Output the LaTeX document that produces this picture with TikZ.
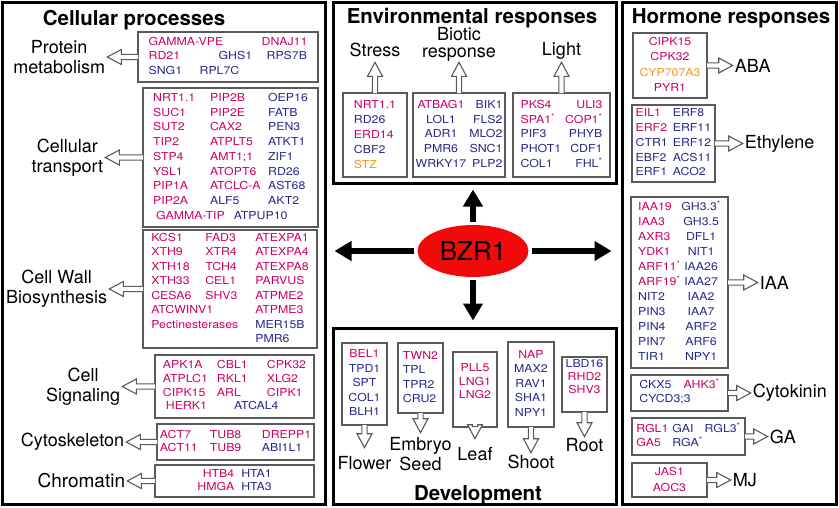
\documentclass[tikz,border=0pt]{standalone}
\usepackage{fontspec}
\setmainfont{TeX Gyre Heros}
\newfontfamily\genefont[FakeStretch=1.12]{TeX Gyre Heros}
\usepackage{tikz}
\usetikzlibrary{positioning,arrows.meta,shapes.geometric,calc}

\definecolor{genered}{RGB}{205,0,100}
\definecolor{geneblue}{RGB}{40,40,140}
\definecolor{geneorange}{RGB}{240,150,40}
\definecolor{boxgray}{RGB}{90,90,90}
\definecolor{bzrred}{RGB}{240,10,10}

\newcommand{\gR}[1]{\textcolor{genered}{#1}}
\newcommand{\gB}[1]{\textcolor{geneblue}{#1}}
\newcommand{\gO}[1]{\textcolor{geneorange}{#1}}
\newcommand{\sast}{\textsuperscript{*}}

\begin{document}
\begin{tikzpicture}[
    x=1pt, y=-1pt,
    panel/.style={draw=black, line width=3pt},
    ptitle/.style={font=\bfseries\fontsize{20.5}{24}\selectfont, inner sep=0pt, anchor=base},
    gbox/.style={draw=boxgray, line width=1.4pt, fill=white, inner sep=0pt, font=\genefont\fontsize{11}{#1}\selectfont},
    gbox/.default=14.6,
    lbl/.style={font=\fontsize{18}{20}\selectfont, align=center, inner sep=2pt},
    harr/.style={draw=boxgray, line width=1.1pt, fill=white,
      to path={let \p1=(\tikztostart), \p2=(\tikztotarget),
        \n1={atan2(\y2-\y1,\x2-\x1)}, \n2={veclen(\x2-\x1,\y2-\y1)} in
        {[shift={(\p1)}, rotate=\n1] (-0.7pt,2.6pt) -- ({\n2*1pt-14pt},2.6pt) -- ({\n2*1pt-14pt},7.5pt)
          -- ({\n2*1pt},0pt) -- ({\n2*1pt-14pt},-7.5pt) -- ({\n2*1pt-14pt},-2.6pt) -- (-0.7pt,-2.6pt)}}},
    bigarr/.style={line width=6pt, -{Triangle[length=17pt,width=19pt]}, shorten <=3pt},
  ]
  \path[fill=white, use as bounding box] (0,0) rectangle (839,507);

  \node[panel, minimum width=323pt, minimum height=502pt] (cell) at (163.5,253) {};
  \node[panel, minimum width=283pt, minimum height=181pt] (env) at (474.5,92.5) {};
  \node[panel, minimum width=283pt, minimum height=176pt] (dev) at (474.5,416) {};
  \node[panel, minimum width=214pt, minimum height=502pt] (horm) at (729,253) {};

  \node[ptitle] (cellT) at (134,25) {Cellular processes};
  \node[ptitle] (envT) at (472,23) {Environmental responses};
  \node[ptitle] (hormT) at (731,23) {Hormone responses};
  \node[ptitle] (devT) at (478,500) {Development};

  % cellular processes
  \node[gbox, minimum width=180pt, minimum height=50pt] (prot) at (228,57) {
    \begin{tabular}{@{}p{51pt}@{}p{62pt}@{}l@{}}
      \multicolumn{2}{@{}l@{}}{\gR{GAMMA-VPE}} & \gR{DNAJ11}\\
      \gR{RD21} & \hspace*{19pt}\gB{GHS1} & \hspace*{5pt}\gB{RPS7B}\\
      \gB{SNG1} & \gB{RPL7C} &
    \end{tabular}};
  \node[gbox=14.75, minimum width=175pt, minimum height=139pt] (trans) at (230.5,157.5) {
    \begin{tabular}{@{}p{57pt}@{}p{58pt}@{}l@{}}
      \gR{NRT1.1} & \gR{PIP2B} & \gB{OEP16}\\
      \gR{SUC1} & \gR{PIP2E} & \gB{FATB}\\
      \gR{SUT2} & \gR{CAX2} & \gB{PEN3}\\
      \gR{TIP2} & \gR{ATPLT5} & \gB{ATKT1}\\
      \gR{STP4} & \gR{AMT1;1} & \gB{ZIF1}\\
      \gR{YSL1} & \gR{ATOPT6} & \gB{RD26}\\
      \gR{PIP1A} & \gR{ATCLC-A} & \gB{AST68}\\
      \gR{PIP2A} & \gB{ALF5} & \gB{AKT2}\\
      \multicolumn{3}{@{}l@{}}{\hspace*{3pt}\gR{GAMMA-TIP}\hspace{9pt}\gB{ATPUP10}}
    \end{tabular}};
  \node[gbox=14.5, minimum width=174pt, minimum height=118pt] (wall) at (230,289) {
    \begin{tabular}{@{}p{54pt}@{}p{50pt}@{}l@{}}
      \gR{KCS1} & \gR{FAD3} & \gR{ATEXPA1}\\
      \gR{XTH9} & \gR{XTR4} & \gR{ATEXPA4}\\
      \gR{XTH18} & \gR{TCH4} & \gR{ATEXPA8}\\
      \gR{XTH33} & \gR{CEL1} & \gR{PARVUS}\\
      \gR{CESA6} & \gR{SHV3} & \gR{ATPME2}\\
      \multicolumn{2}{@{}l@{}}{\gR{ATCWINV1}} & \gR{ATPME3}\\
      \multicolumn{2}{@{}l@{}}{\gR{Pectinesterases}} & \gB{MER15B}\\
      & & \gB{PMR6}
    \end{tabular}};
  \node[gbox=13.8, minimum width=159pt, minimum height=63pt] (sig) at (234.5,386.5) {
    \begin{tabular}{@{}p{54pt}@{}p{50pt}@{}l@{}}
      \gR{APK1A} & \gR{CBL1} & \gR{CPK32}\\
      \gR{ATPLC1} & \gR{RKL1} & \gR{XLG2}\\
      \gR{CIPK15} & \gR{ARL} & \gR{CIPK1}\\
      \multicolumn{3}{@{}l@{}}{\hspace*{3pt}\gR{HERK1}\hspace{27pt}\gB{ATCAL4}}
    \end{tabular}};
  \node[gbox=13, minimum width=157pt, minimum height=36pt] (cyto) at (235.5,442) {
    \begin{tabular}{@{}p{50pt}@{}p{52pt}@{}l@{}}
      \gR{ACT7} & \gR{TUB8} & \gR{DREPP1}\\
      \gR{ACT11} & \gR{TUB9} & \gB{ABI1L1}
    \end{tabular}};
  \node[gbox=13, minimum width=159pt, minimum height=32pt] (chrom) at (234.5,481) {
    \begin{tabular}{@{}r@{\hspace{7pt}}l@{}}
      \gR{HTB4} & \gB{HTA1}\\
      \gR{HMGA} & \gB{HTA3}
    \end{tabular}};

  \node[lbl, left=30pt of prot] (protL) {Protein\\metabolism};
  \node[lbl, left=37pt of trans] (transL) {Cellular\\transport};
  \node[lbl, left=33pt of wall] (wallL) {Cell Wall\\Biosynthesis};
  \node[lbl, left=32pt of sig] (sigL) {Cell\\Signaling};
  \node[lbl, left=30pt of cyto] (cytoL) {Cytoskeleton};
  \node[lbl, left=27pt of chrom, font=\fontsize{19}{20}\selectfont] (chromL) {Chromatin};
  \draw[harr] (prot.west) to (protL.east);
  \draw[harr] (trans.west) to (transL.east);
  \draw[harr] (wall.west) to (wallL.east);
  \draw[harr] (sig.west) to (sigL.east);
  \draw[harr] (cyto.west) to (cytoL.east);
  \draw[harr] (chrom.west) to (chromL.east);

  % environmental responses
  \node[gbox=15, minimum width=64pt, minimum height=84pt] (stress) at (375,135) {
    \begin{tabular}{@{}l@{}}
      \gR{NRT1.1}\\ \gB{RD26}\\ \gR{ERD14}\\ \gB{CBF2}\\ \gO{STZ}
    \end{tabular}};
  \node[gbox=14.8, minimum width=92pt, minimum height=84pt] (biot) at (459,135) {
    \begin{tabular}{@{}c@{\hspace{3pt}}r@{}}
      \gR{ATBAG1} & \gB{BIK1}\\
      \gB{LOL1} & \gB{FLS2}\\
      \gB{ADR1} & \gB{MLO2}\\
      \gB{PMR6} & \gB{SNC1}\\
      \gB{WRKY17} & \gB{PLP2}
    \end{tabular}};
  \node[gbox=14.8, minimum width=97pt, minimum height=84pt] (light) at (561.5,135) {
    \begin{tabular}{@{}l@{\hspace{4pt}}r@{}}
      \gR{PKS4} & \gR{ULI3}\\
      \gR{SPA1\sast} & \gR{COP1\sast}\\
      \gB{PIF3} & \gB{PHYB}\\
      \gB{PHOT1} & \gB{CDF1}\\
      \gB{COL1} & \gB{FHL\sast}
    \end{tabular}};

  \node[lbl, above=30pt of stress, inner ysep=5pt] (stressL) {Stress};
  \node[lbl, above=30pt of biot, inner ysep=1pt, font=\fontsize{18}{16.5}\selectfont] (biotL) {Biotic\\response};
  \node[lbl, above=30pt of light, inner ysep=2.5pt] (lightL) {Light};
  \draw[harr] (stress.north) to (stressL.south);
  \draw[harr] (biot.north) to (biotL.south);
  \draw[harr] (light.north) to (lightL.south);

  % development
  \node[gbox=14.5, minimum width=45pt, minimum height=82pt] (flow) at (364.5,384) {
    \begin{tabular}{@{}c@{}}
      \gR{BEL1}\\ \gB{TPD1}\\ \gB{SPT}\\ \gB{COL1}\\ \gB{BLH1}
    \end{tabular}};
  \node[gbox=14.5, minimum width=45pt, minimum height=70pt] (emb) at (420.5,378) {
    \begin{tabular}{@{}l@{}}
      \gR{TWN2}\\ \gB{TPL}\\ \gB{TPR2}\\ \gB{CRU2}
    \end{tabular}};
  \node[gbox=13.5, minimum width=44pt, minimum height=75pt] (leaf) at (475,389.5) {
    \begin{tabular}{@{}c@{}}
      \gR{PLL5}\\ \gR{LNG1}\\ \gR{LNG2}\\ \mbox{}
    \end{tabular}};
  \node[gbox=14.5, minimum width=46pt, minimum height=85pt] (shoot) at (531,384.5) {
    \begin{tabular}{@{}c@{}}
      \gR{NAP}\\ \gB{MAX2}\\ \gB{RAV1}\\ \gB{SHA1}\\ \gB{NPY1}
    \end{tabular}};
  \node[gbox=12.8, minimum width=45pt, minimum height=55pt] (root) at (584.5,384.5) {
    \begin{tabular}{@{}c@{}}
      \gB{LBD16}\\ \gR{RHD2}\\ \gR{SHV3}\\ \mbox{}
    \end{tabular}};

  \node[lbl, below=22pt of flow, inner ysep=8pt] (flowL) {Flower};
  \node[lbl, below=19pt of emb, inner ysep=4pt] (embL) {Embryo\\Seed};
  \node[lbl, below=11pt of leaf, inner ysep=8pt] (leafL) {Leaf};
  \node[lbl, below=25pt of shoot, inner ysep=2pt] (shootL) {Shoot};
  \node[lbl, below=24pt of root, inner ysep=1pt] (rootL) {Root};
  \draw[harr] (flow.south) to (flowL.north);
  \draw[harr] (emb.south) to (embL.north);
  \draw[harr] (leaf.south) to (leafL.north);
  \draw[harr] (shoot.south) to (shootL.north);
  \draw[harr] (root.south) to (rootL.north);

  % hormone responses
  \node[gbox=15.5, minimum width=74pt, minimum height=65pt] (aba) at (670,65.5) {
    \begin{tabular}{@{}c@{}}
      \gR{CIPK15}\\ \gR{CPK32}\\ \gO{CYP707A3}\\ \gR{PYR1}
    \end{tabular}};
  \node[gbox=14.75, minimum width=83pt, minimum height=77pt] (eth) at (673.5,143.5) {
    \begin{tabular}{@{}l@{\hspace{5pt}}l@{}}
      \gR{EIL1} & \gB{ERF8}\\
      \gR{ERF2} & \gB{ERF11}\\
      \gB{CTR1} & \gB{ERF12}\\
      \gB{EBF2} & \gB{ACS11}\\
      \gB{ERF1} & \gB{ACO2}
    \end{tabular}};
  \node[gbox=15, minimum width=97pt, minimum height=171pt] (iaa) at (679.5,282.5) {
    \begin{tabular}{@{}l@{\hspace{1pt}}c@{}}
      \gR{IAA19} & \gB{GH3.3\sast}\\
      \gR{IAA3} & \gB{GH3.5}\\
      \gR{AXR3} & \gB{DFL1}\\
      \gR{YDK1} & \gB{NIT1}\\
      \gR{ARF11\sast} & \gB{IAA26}\\
      \gR{ARF19\sast} & \gB{IAA27}\\
      \gB{NIT2} & \gB{IAA2}\\
      \gB{PIN3} & \gB{IAA7}\\
      \gB{PIN4} & \gB{ARF2}\\
      \gB{PIN7} & \gB{ARF6}\\
      \gB{TIR1} & \gB{NPY1}
    \end{tabular}};
  \node[gbox=14, minimum width=97pt, minimum height=36pt] (ck) at (679.5,393) {
    \begin{tabular}{@{}l@{\hspace{12pt}}l@{}}
      \gB{CKX5} & \gR{AHK3\sast}\\
      \multicolumn{2}{@{}l@{}}{\gB{CYCD3;3}}
    \end{tabular}};
  \node[gbox=13, minimum width=113pt, minimum height=37pt] (ga) at (688.5,436.5) {
    \begin{tabular}{@{}l@{\hspace{4pt}}l@{\hspace{2pt}}l@{}}
      \gR{RGL1} & \gB{GAI} & \gB{RGL3\sast}\\
      \gR{GA5} & \gB{RGA\sast} &
    \end{tabular}};
  \node[gbox=16, minimum width=75pt, minimum height=34pt] (mj) at (669.5,480) {
    \begin{tabular}{@{}c@{}}
      \gR{JAS1}\\ \gR{AOC3}
    \end{tabular}};

  \node[lbl, right=25pt of aba] (abaL) {ABA};
  \node[lbl, right=27pt of eth] (ethL) {Ethylene};
  \node[lbl, right=29pt of iaa] (iaaL) {IAA};
  \node[lbl, right=22pt of ck] (ckL) {Cytokinin};
  \node[lbl, right=22pt of ga] (gaL) {GA};
  \node[lbl, right=23pt of mj] (mjL) {MJ};
  \draw[harr] (aba.east) to (abaL.west);
  \draw[harr] (eth.east) to (ethL.west);
  \draw[harr] (iaa.east) to (iaaL.west);
  \draw[harr] (ck.east) to (ckL.west);
  \draw[harr] (ga.east) to (gaL.west);
  \draw[harr] (mj.east) to (mjL.west);

  % BZR1 hub
  \node[ellipse, fill=bzrred, minimum width=111pt, minimum height=52pt, inner sep=0pt,
    font=\fontsize{26}{30}\selectfont] (bzr) at (473,251) {BZR1};
  \draw[bigarr, shorten >=5pt] (bzr.north) -- (bzr.north |- env.south);
  \draw[bigarr, shorten >=6pt] (bzr.south) -- (bzr.south |- dev.north);
  \draw[bigarr, shorten >=8pt] (bzr.west) -- (bzr.west -| cell.east);
  \draw[bigarr, shorten >=9pt] (bzr.east) -- (bzr.east -| horm.west);
\end{tikzpicture}
\end{document}
